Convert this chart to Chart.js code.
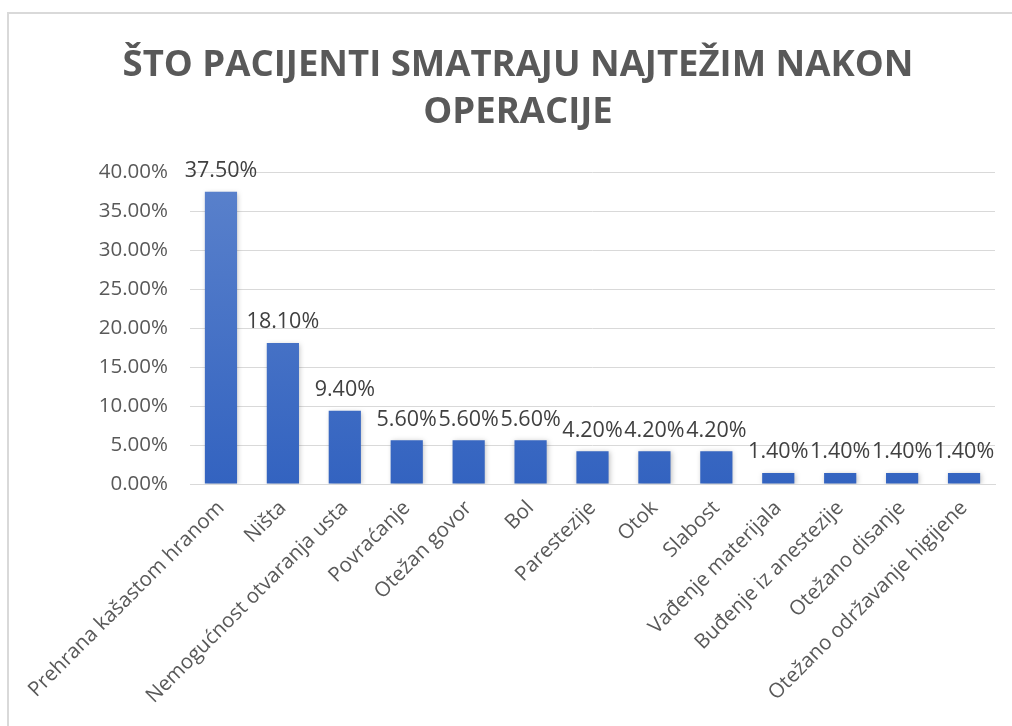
<!DOCTYPE html>
<html>
<head>
<meta charset="utf-8">
<script src="https://cdn.jsdelivr.net/npm/chart.js@4"></script>
<style>
  html, body { margin: 0; padding: 0; background: #ffffff; }
  #wrap { position: relative; width: 1012px; height: 726px; }
  #frame { position: absolute; left: 7px; top: 12px; width: 1100px; height: 800px;
           border-left: 2px solid #d9d9d9; border-top: 2px solid #d9d9d9; pointer-events: none; }
  canvas { position: absolute; left: 0; top: 0; }
</style>
</head>
<body>
<div id="wrap">
  <canvas id="c" width="1012" height="726"></canvas>
  <div id="frame"></div>
</div>
<script>
const titleLines = ['ŠTO PACIJENTI SMATRAJU NAJTEŽIM NAKON', 'OPERACIJE'];
const categories = [
  'Prehrana kašastom hranom', 'Ništa', 'Nemogućnost otvaranja usta', 'Povraćanje',
  'Otežan govor', 'Bol', 'Parestezije', 'Otok', 'Slabost', 'Vađenje materijala',
  'Buđenje iz anestezije', 'Otežano disanje', 'Otežano održavanje higijene'
];
const percentValues = [37.5, 18.1, 9.4, 5.6, 5.6, 5.6, 4.2, 4.2, 4.2, 1.4, 1.4, 1.4, 1.4];
const yTickMin = 0;
const yTickMax = 40;
const yTickStep = 5;

const FONT = "'Open Sans', 'Liberation Sans', sans-serif";

const dataLabelPlugin = {
  id: 'dataLabels',
  afterDatasetsDraw(chart) {
    const ctx = chart.ctx;
    const meta = chart.getDatasetMeta(0);
    ctx.save();
    ctx.font = '21.5px ' + FONT;
    ctx.fillStyle = '#404040';
    ctx.textAlign = 'center';
    ctx.textBaseline = 'bottom';
    meta.data.forEach((bar, i) => {
      ctx.fillText(percentValues[i].toFixed(2) + '%', bar.x, bar.y - 10);
    });
    ctx.restore();
  }
};

const shadowPlugin = {
  id: 'barShadow',
  beforeDatasetsDraw(chart) {
    chart.ctx.save();
    chart.ctx.shadowColor = 'rgba(0,0,0,0.25)';
    chart.ctx.shadowBlur = 5;
    chart.ctx.shadowOffsetX = 1;
    chart.ctx.shadowOffsetY = 1;
  },
  afterDatasetsDraw(chart) {
    chart.ctx.restore();
  }
};

function barGradient(context) {
  const chart = context.chart;
  const area = chart.chartArea;
  if (!area) return '#4472c4';
  const g = chart.ctx.createLinearGradient(0, area.top, 0, area.bottom);
  g.addColorStop(0, '#5b82cc');
  g.addColorStop(1, '#3363c0');
  return g;
}

new Chart(document.getElementById('c'), {
  type: 'bar',
  data: {
    labels: categories,
    datasets: [{
      data: percentValues,
      backgroundColor: barGradient,
      borderWidth: 0,
      barPercentage: 0.52,
      categoryPercentage: 1.0
    }]
  },
  options: {
    responsive: false,
    animation: false,
    devicePixelRatio: 1,
    layout: { padding: { left: 41, right: 17, top: 0, bottom: 0 } },
    plugins: {
      legend: { display: false },
      tooltip: { enabled: false },
      title: {
        display: true,
        text: titleLines,
        color: '#595959',
        font: { family: FONT, size: 36.5, weight: 'bold', lineHeight: 1.29 },
        padding: { top: 42, bottom: 36 }
      }
    },
    scales: {
      x: {
        grid: { display: false, drawTicks: false },
        border: { display: true, color: '#d9d9d9', width: 1 },
        ticks: {
          color: '#595959',
          font: { family: FONT, size: 20.5 },
          minRotation: 45,
          maxRotation: 45,
          autoSkip: false,
          padding: 12
        },
        afterFit(scale) { scale.height = 242; }
      },
      y: {
        min: yTickMin,
        max: yTickMax,
        ticks: {
          stepSize: yTickStep,
          color: '#595959',
          font: { family: FONT, size: 20.5 },
          padding: 22,
          callback: v => v.toFixed(2) + '%'
        },
        grid: { color: '#d9d9d9', lineWidth: 1, drawTicks: false },
        border: { display: false },
        afterFit(scale) { scale.width = 149; }
      }
    }
  },
  plugins: [shadowPlugin, dataLabelPlugin]
});
</script>
</body>
</html>
